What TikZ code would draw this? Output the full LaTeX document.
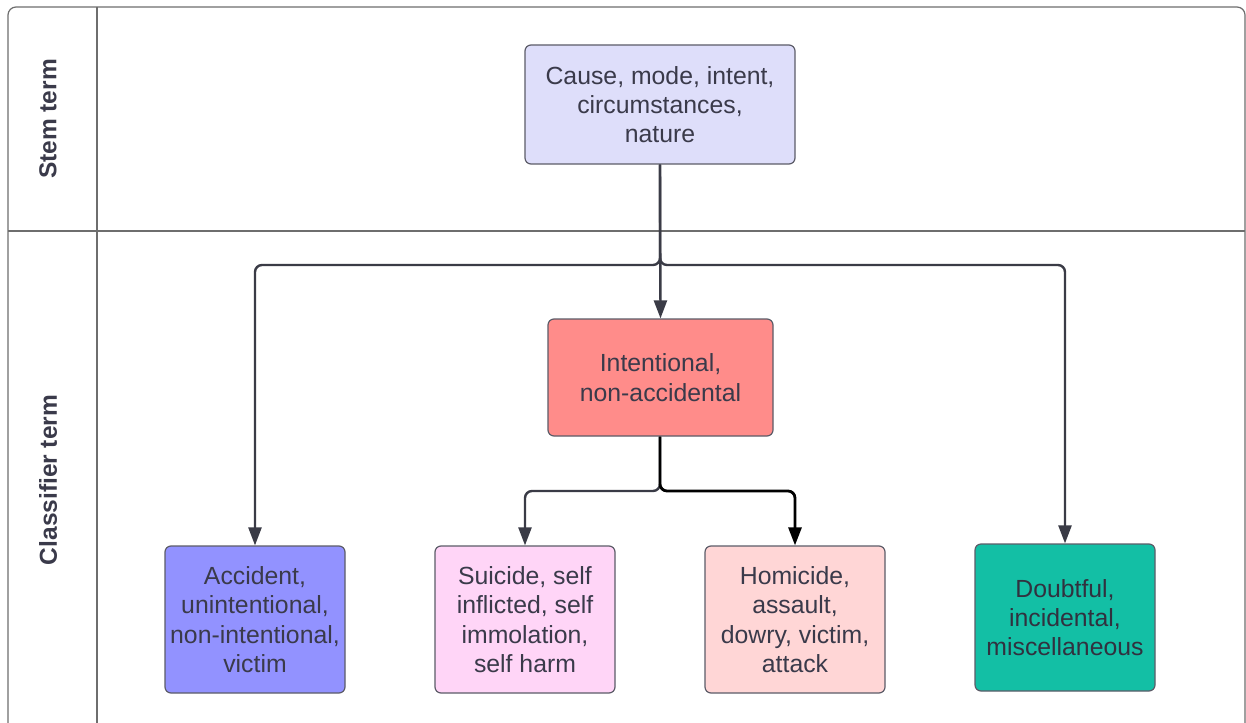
\documentclass[tikz,border=0pt]{standalone}
\usepackage{fontspec}
\setmainfont{Liberation Sans}
\usetikzlibrary{arrows.meta}
\definecolor{ink}{HTML}{3A3A4A}
\definecolor{wire}{HTML}{3A3B46}
\definecolor{frame}{HTML}{6E6E6E}
\definecolor{edgegray}{HTML}{5C5C68}
\definecolor{stemfill}{HTML}{DEDEFA}
\definecolor{intfill}{HTML}{FF8C8A}
\definecolor{accfill}{HTML}{9292FF}
\definecolor{suifill}{HTML}{FFD5F7}
\definecolor{homfill}{HTML}{FFD6D6}
\definecolor{doufill}{HTML}{13BFA5}
\tikzset{
  card/.style={draw=edgegray, line width=1.2pt, rounded corners=6pt, align=center,
    text=ink, font=\fontsize{24.8}{29.3}\selectfont, inner sep=0pt},
  leaf/.style={card, minimum width=180pt, minimum height=147pt},
  link/.style={draw=wire, line width=2.4pt, rounded corners=7pt,
    -{Triangle[length=18pt,width=13pt]}},
  lane/.style={draw=frame, line width=1.2pt},
  lanetitle/.style={rotate=90, text=ink, font=\bfseries\fontsize{24.5}{28}\selectfont}
}
\begin{document}
\begin{tikzpicture}[x=1pt, y=-1pt]
\useasboundingbox (0,0) rectangle (1246,722);
\fill[white] (0,0) rectangle (1246,722);

% swimlane frame
\draw[lane, rounded corners=8pt] (8,740) -- (8,7) -- (1245,7) -- (1245,740);
\draw[lane] (97,7) -- (97,740);
\draw[lane] (8,231) -- (1245,231);
\node[lanetitle] (stemlabel) at (48,119) {Stem term};
\node[lanetitle] (classlabel) at (48,480) {Classifier term};

% terms
\node[card, fill=stemfill, minimum width=270pt, minimum height=119pt] (stem) at (660,104.5)
  {Cause, mode, intent,\\circumstances,\\nature};
\node[card, fill=intfill, minimum width=225pt, minimum height=117pt] (intent) at (660.5,377.5)
  {Intentional,\\non-accidental};
\node[leaf, fill=accfill] (acc) at (255,619.5)
  {Accident,\\unintentional,\\non-intentional,\\victim};
\node[leaf, fill=suifill] (sui) at (525,619.5)
  {Suicide, self\\inflicted, self\\immolation,\\self harm};
\node[leaf, fill=homfill] (hom) at (795,619.5)
  {Homicide,\\assault,\\dowry, victim,\\attack};
\node[leaf, fill=doufill, text=ink!85!black] (dou) at (1065,617.5)
  {Doubtful,\\incidental,\\miscellaneous};

% branch points
\coordinate (split) at (660,265);
\coordinate (fork) at (660,491);

% connectors
\draw[link] (stem.south) -- (intent.north);
\draw[link] (stem.south) -- (split) -| (acc.north);
\draw[link] (stem.south) -- (split) -| (dou.north);
\draw[link] (intent.south -| fork) -- (fork) -| (sui.north);
\draw[link, draw=black, line width=2.8pt] (intent.south -| fork) -- (fork) -| (hom.north);
\end{tikzpicture}
\end{document}
